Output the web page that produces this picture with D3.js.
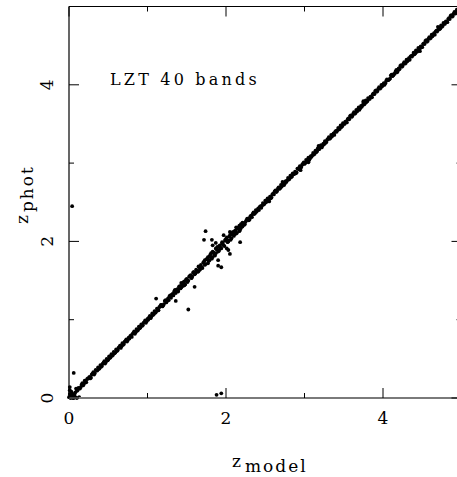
<!DOCTYPE html>
<html>
<head>
<meta charset="utf-8">
<script src="https://cdn.jsdelivr.net/npm/d3@7"></script>
<style>
  html, body { margin: 0; padding: 0; background: #fff; }
  svg { display: block; }
  text { font-family: "DejaVu Serif", "Liberation Serif", serif; fill: #000; }
</style>
</head>
<body>
<svg id="chart" width="457" height="477"></svg>
<script>
// Photometric redshift vs. model redshift, LZT 40-band filter set.
const majorTicks = [0, 2, 4];
const minorTicks = [1, 3];
const tickLabels = ["0", "2", "4"];

// [z_model, z_phot] along the one-to-one relation
const sequence = [
  [0.00,0.01],[0.01,0.05],[0.01,0.10],[0.02,0.00],[0.03,0.02],[0.04,0.06],[0.05,0.03],[0.06,0.00],
  [0.08,0.07],[0.10,0.09],[0.12,0.13],[0.14,0.12],[0.16,0.17],[0.18,0.16],[0.20,0.22],[0.22,0.20],
  [0.24,0.25],[0.26,0.27],[0.28,0.26],[0.30,0.31],[0.32,0.30],[0.34,0.36],[0.36,0.35],[0.38,0.37],
  [0.40,0.42],[0.42,0.41],[0.44,0.45],[0.46,0.44],[0.48,0.50],[0.50,0.49],[0.52,0.51],[0.54,0.56],
  [0.56,0.55],[0.58,0.57],[0.60,0.62],[0.62,0.61],[0.64,0.65],[0.66,0.64],[0.68,0.70],[0.70,0.69],
  [0.72,0.73],[0.74,0.72],[0.76,0.77],[0.78,0.79],[0.80,0.78],[0.82,0.83],[0.84,0.82],[0.86,0.88],
  [0.88,0.87],[0.90,0.89],[0.92,0.94],[0.94,0.93],[0.96,0.97],[0.98,0.96],[1.00,1.01],[1.02,1.03],
  [1.04,1.02],[1.06,1.08],[1.08,1.07],[1.10,1.09],[1.12,1.14],[1.14,1.12],[1.16,1.17],[1.18,1.19],
  [1.20,1.18],[1.22,1.24],[1.24,1.22],[1.26,1.27],[1.28,1.30],[1.30,1.28],[1.32,1.33],[1.34,1.36],
  [1.36,1.34],[1.38,1.39],[1.40,1.42],[1.42,1.40],[1.44,1.45],[1.46,1.48],[1.48,1.45],[1.50,1.52],
  [1.52,1.50],[1.54,1.56],[1.56,1.53],[1.58,1.60],[1.60,1.58],[1.62,1.64],[1.64,1.61],[1.66,1.67],
  [1.68,1.70],[1.70,1.66],[1.72,1.74],[1.74,1.71],[1.76,1.78],[1.78,1.75],[1.80,1.83],[1.82,1.78],
  [1.84,1.86],[1.86,1.82],[1.88,1.90],[1.90,1.87],[1.92,1.95],[1.94,1.91],[1.96,1.98],[1.98,1.94],
  [2.00,2.03],[2.02,1.99],[2.04,2.06],[2.06,2.02],[2.08,2.10],[2.10,2.07],[2.12,2.14],[2.14,2.11],
  [2.16,2.18],[2.18,2.15],[2.20,2.21],[2.22,2.23],[2.24,2.22],[2.26,2.27],[2.28,2.29],[2.30,2.28],
  [2.32,2.33],[2.34,2.35],[2.36,2.35],[2.38,2.40],[2.40,2.40],[2.42,2.40],[2.44,2.45],[2.46,2.46],
  [2.48,2.47],[2.50,2.52],[2.52,2.51],[2.54,2.54],[2.56,2.57],[2.58,2.56],[2.60,2.61],[2.62,2.64],
  [2.64,2.63],[2.66,2.67],[2.68,2.67],[2.70,2.72],[2.72,2.72],[2.74,2.72],[2.76,2.77],[2.78,2.78],
  [2.80,2.79],[2.82,2.84],[2.84,2.83],[2.86,2.86],[2.88,2.89],[2.90,2.88],[2.92,2.93],[2.94,2.96],
  [2.96,2.95],[2.98,2.99],[3.00,2.99],[3.02,3.04],[3.04,3.04],[3.06,3.04],[3.08,3.09],[3.10,3.10],
  [3.12,3.11],[3.14,3.16],[3.16,3.15],[3.18,3.18],[3.20,3.21],[3.22,3.20],[3.24,3.25],[3.26,3.28],
  [3.28,3.27],[3.30,3.31],[3.32,3.31],[3.34,3.36],[3.36,3.36],[3.38,3.36],[3.40,3.41],[3.42,3.42],
  [3.44,3.43],[3.46,3.48],[3.48,3.47],[3.50,3.50],[3.52,3.53],[3.54,3.52],[3.56,3.57],[3.58,3.60],
  [3.60,3.59],[3.62,3.63],[3.64,3.63],[3.66,3.68],[3.68,3.68],[3.70,3.68],[3.72,3.73],[3.74,3.74],
  [3.76,3.75],[3.78,3.80],[3.80,3.79],[3.82,3.82],[3.84,3.85],[3.86,3.84],[3.88,3.89],[3.90,3.92],
  [3.92,3.91],[3.94,3.95],[3.96,3.95],[3.98,4.00],[4.00,4.00],[4.02,4.00],[4.04,4.05],[4.06,4.06],
  [4.08,4.07],[4.10,4.12],[4.12,4.11],[4.14,4.14],[4.16,4.17],[4.18,4.16],[4.20,4.21],[4.22,4.24],
  [4.24,4.23],[4.26,4.27],[4.28,4.27],[4.30,4.32],[4.32,4.32],[4.34,4.32],[4.36,4.37],[4.38,4.38],
  [4.40,4.39],[4.42,4.44],[4.44,4.43],[4.46,4.46],[4.48,4.49],[4.50,4.48],[4.52,4.53],[4.54,4.56],
  [4.56,4.55],[4.58,4.59],[4.60,4.59],[4.62,4.64],[4.64,4.64],[4.66,4.64],[4.68,4.69],[4.70,4.70],
  [4.72,4.71],[4.74,4.76],[4.76,4.75],[4.78,4.78],[4.80,4.81],[4.82,4.80],[4.84,4.85],[4.86,4.88],
  [4.88,4.87],[4.90,4.91],[4.92,4.91],[4.94,4.96],[4.96,4.96],[4.98,4.97]
];

// second sample of objects on the relation, interleaved with the first
const sequenceB = [
  [0.05,0.00],[0.08,0.01],[0.10,0.00],[0.13,0.01],[0.07,0.04],[0.09,0.12],[0.11,0.10],[0.15,0.14],
  [0.17,0.19],[0.19,0.18],[0.21,0.20],[0.23,0.24],[0.27,0.25],[0.29,0.30],[0.31,0.33],[0.33,0.32],
  [0.37,0.39],[0.39,0.38],[0.41,0.40],[0.43,0.44],[0.45,0.47],[0.47,0.46],[0.49,0.48],[0.51,0.53],
  [0.53,0.52],[0.55,0.54],[0.57,0.59],[0.59,0.58],[0.61,0.60],[0.63,0.64],[0.65,0.67],[0.67,0.66],
  [0.69,0.68],[0.71,0.72],[0.73,0.75],[0.75,0.74],[0.77,0.76],[0.79,0.80],[0.81,0.82],[0.83,0.85],
  [0.85,0.84],[0.87,0.86],[0.89,0.91],[0.91,0.90],[0.93,0.92],[0.95,0.96],[0.97,0.99],[0.99,0.98],
  [1.01,1.00],[1.03,1.05],[1.05,1.04],[1.07,1.06],[1.09,1.11],[1.11,1.10],[1.13,1.12],[1.15,1.16],
  [1.17,1.19],[1.19,1.17],[1.21,1.20],[1.23,1.25],[1.25,1.24],[1.27,1.25],[1.29,1.31],[1.31,1.32],
  [1.33,1.31],[1.35,1.37],[1.37,1.38],[1.39,1.37],[1.41,1.43],[1.43,1.41],[1.45,1.43],[1.47,1.49],
  [1.49,1.51],[1.51,1.48],[1.53,1.55],[1.55,1.57],[1.57,1.55],[1.59,1.61],[1.61,1.59],[1.63,1.62],
  [1.65,1.68],[1.67,1.64],[1.69,1.67],[1.71,1.73],[1.73,1.70],[1.75,1.77],[1.77,1.80],[1.79,1.76],
  [1.81,1.79],[1.83,1.87],[1.85,1.83],[1.87,1.85],[1.89,1.93],[1.91,1.88],[1.93,1.92],[1.95,1.97],
  [1.97,1.95],[1.99,2.02],[2.01,2.05],[2.03,2.01],[2.05,2.08],[2.07,2.04],[2.09,2.12],[2.11,2.13],
  [2.13,2.10],[2.15,2.16],[2.17,2.20],[2.19,2.17],[2.21,2.24],[2.23,2.21],[2.25,2.25],[2.27,2.29],
  [2.29,2.27],[2.31,2.32],[2.33,2.31],[2.35,2.37],[2.37,2.36],[2.39,2.38],[2.41,2.42],[2.43,2.44],
  [2.45,2.43],[2.47,2.49],[2.49,2.48],[2.51,2.50],[2.53,2.55],[2.55,2.54],[2.57,2.55],[2.59,2.60],
  [2.61,2.60],[2.63,2.65],[2.65,2.64],[2.67,2.69],[2.69,2.68],[2.71,2.70],[2.73,2.75],[2.75,2.74],
  [2.77,2.76],[2.79,2.81],[2.81,2.80],[2.83,2.82],[2.85,2.87],[2.87,2.86],[2.89,2.87],[2.91,2.93],
  [2.93,2.92],[2.95,2.94],[2.97,2.98],[2.99,3.01],[3.01,3.00],[3.03,3.02],[3.05,3.07],[3.07,3.06],
  [3.09,3.08],[3.11,3.13],[3.13,3.12],[3.15,3.14],[3.17,3.19],[3.19,3.18],[3.21,3.23],[3.23,3.22],
  [3.25,3.24],[3.27,3.26],[3.29,3.30],[3.31,3.33],[3.33,3.32],[3.35,3.34],[3.37,3.38],[3.39,3.40],
  [3.41,3.40],[3.43,3.45],[3.45,3.44],[3.47,3.46],[3.49,3.51],[3.51,3.50],[3.53,3.52],[3.55,3.56],
  [3.57,3.56],[3.59,3.61],[3.61,3.60],[3.63,3.65],[3.65,3.64],[3.67,3.66],[3.69,3.71],[3.71,3.70],
  [3.73,3.72],[3.75,3.77],[3.77,3.76],[3.79,3.78],[3.81,3.83],[3.83,3.82],[3.85,3.84],[3.87,3.88],
  [3.89,3.88],[3.91,3.93],[3.93,3.92],[3.95,3.97],[3.97,3.96],[3.99,3.98],[4.01,4.02],[4.03,4.02],
  [4.05,4.07],[4.07,4.06],[4.09,4.08],[4.11,4.13],[4.13,4.12],[4.15,4.14],[4.17,4.19],[4.19,4.18],
  [4.21,4.20],[4.23,4.25],[4.25,4.24],[4.27,4.29],[4.29,4.28],[4.31,4.30],[4.33,4.34],[4.35,4.36],
  [4.37,4.36],[4.39,4.41],[4.41,4.40],[4.43,4.42],[4.45,4.47],[4.47,4.46],[4.49,4.48],[4.51,4.52],
  [4.53,4.52],[4.55,4.57],[4.57,4.56],[4.59,4.61],[4.61,4.60],[4.63,4.62],[4.65,4.66],[4.67,4.68],
  [4.69,4.68],[4.71,4.73],[4.73,4.72],[4.75,4.74],[4.77,4.79],[4.79,4.78],[4.81,4.80],[4.83,4.84],
  [4.85,4.84],[4.87,4.89],[4.89,4.88],[4.91,4.93],[4.93,4.92],[4.95,4.94],[4.97,4.98]
];

// extra objects thickening the relation where the scatter grows
const broadened = [
  [1.35,1.38],[1.39,1.36],[1.43,1.47],[1.47,1.44],[1.65,1.62],[1.73,1.76],[1.77,1.72],[1.79,1.81],
  [1.81,1.85],[1.83,1.80],[1.87,1.91],[1.91,1.89],[1.95,1.99],[1.99,2.01],[2.03,2.00],[2.05,2.12],
  [2.07,2.09],[2.11,2.09],[2.13,2.18],[2.15,2.17],[2.17,2.13],[2.19,2.22],[2.21,2.19],
  [2.55,2.51],[2.72,2.76],[2.95,2.91],[3.05,3.01],[3.18,3.22],[3.75,3.79],[4.47,4.43],[4.70,4.74]
];

// catastrophic and moderate outliers
const outliers = [
  [0.04,2.45],[0.06,0.32],[0.03,0.08],[0.01,0.14],[1.11,1.27],[1.36,1.24],[1.52,1.13],[1.60,1.42],
  [1.74,2.13],[1.72,2.02],[1.82,2.02],[1.87,1.98],[1.83,1.95],[1.97,2.08],[2.18,1.99],[2.01,1.91],
  [2.03,1.89],[2.05,1.84],[1.90,1.76],[1.94,1.67],[1.90,1.69],[2.08,2.11],[1.88,0.04],[1.94,0.06]
];

const svg = d3.select("#chart");
const x = d3.scaleLinear().domain([0, 5]).range([69, 461.5]);
const y = d3.scaleLinear().domain([0, 5]).range([398, 6.5]);

const [x0, x1] = x.range();
const [y0, y1] = y.range();

// data points
svg.append("g")
  .selectAll("circle")
  .data(sequence.concat(sequenceB, broadened, outliers))
  .join("circle")
  .attr("cx", d => x(d[0]))
  .attr("cy", d => y(d[1]))
  .attr("r", 1.9)
  .attr("fill", "#000");

// frame
const frame = svg.append("g").attr("fill", "none");
frame.append("line").attr("x1", x0).attr("x2", x0).attr("y1", y0).attr("y2", y1)
  .attr("stroke", "#000").attr("stroke-width", 1.2);
frame.append("line").attr("x1", x0).attr("x2", x1).attr("y1", y1).attr("y2", y1)
  .attr("stroke", "#000").attr("stroke-width", 1.2);
frame.append("line").attr("x1", x1).attr("x2", x1).attr("y1", y0).attr("y2", y1)
  .attr("stroke", "#000").attr("stroke-width", 1.2);
frame.append("line").attr("x1", x0).attr("x2", x1).attr("y1", y0).attr("y2", y0)
  .attr("stroke", "#7a7a7a").attr("stroke-width", 2);

// ticks on all four sides, pointing inward
const ticks = svg.append("g").attr("stroke", "#000").attr("stroke-width", 1);
const tickSet = majorTicks.map(v => ({ v, len: 10 })).concat(minorTicks.map(v => ({ v, len: 5 })));
tickSet.forEach(t => {
  ticks.append("line").attr("x1", x(t.v)).attr("x2", x(t.v)).attr("y1", y0).attr("y2", y0 - t.len);
  ticks.append("line").attr("x1", x(t.v)).attr("x2", x(t.v)).attr("y1", y1).attr("y2", y1 + t.len);
  ticks.append("line").attr("y1", y(t.v)).attr("y2", y(t.v)).attr("x1", x0).attr("x2", x0 + t.len);
  ticks.append("line").attr("y1", y(t.v)).attr("y2", y(t.v)).attr("x1", x1).attr("x2", x1 - t.len);
});

// tick labels
majorTicks.forEach((v, i) => {
  svg.append("text")
    .attr("x", x(v)).attr("y", y0 + 26)
    .attr("text-anchor", "middle")
    .attr("font-size", 17)
    .text(tickLabels[i]);
  svg.append("text")
    .attr("transform", `translate(${x0 - 16},${y(v)}) rotate(-90)`)
    .attr("text-anchor", "middle")
    .attr("font-size", 17)
    .text(tickLabels[i]);
});

// axis titles
const xt = svg.append("text")
  .attr("x", 232).attr("y", 467)
  .attr("font-size", 17);
xt.append("tspan").text("z").attr("letter-spacing", 4);
xt.append("tspan").attr("dy", 5).attr("letter-spacing", 2).text("model");

const yt = svg.append("text")
  .attr("transform", "translate(28,224) rotate(-90)")
  .attr("font-size", 17);
yt.append("tspan").text("z").attr("letter-spacing", 3);
yt.append("tspan").attr("dy", 5).attr("letter-spacing", 2).text("phot");

// annotation
svg.append("text")
  .attr("x", 110).attr("y", 85)
  .attr("font-size", 16)
  .attr("letter-spacing", 3.2)
  .text("LZT 40 bands");
</script>
</body>
</html>
